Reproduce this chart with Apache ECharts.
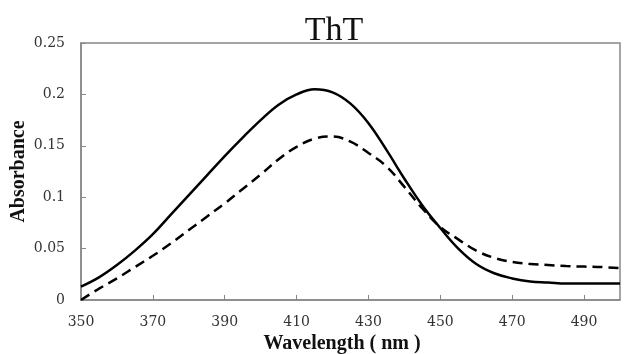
<!DOCTYPE html>
<html>
<head>
<meta charset="utf-8">
<script src="https://cdn.jsdelivr.net/npm/echarts@6/dist/echarts.min.js"></script>
<style>
  html, body { margin: 0; padding: 0; background: #fff; }
  #chart { width: 624px; height: 354px; }
</style>
</head>
<body>
<div id="chart"></div>
<script>
  // wavelength (nm)
  const wavelengths = [350, 355, 360, 365, 370, 375, 380, 385, 390, 395,
                       400, 405, 410, 415, 420, 425, 430, 435, 440, 445,
                       450, 455, 460, 465, 470, 475, 480, 485, 490, 495, 500];
  // solid curve
  const solidVals = [0.013, 0.022, 0.034, 0.048, 0.064, 0.083, 0.102, 0.121, 0.140, 0.158,
                     0.175, 0.190, 0.200, 0.205, 0.202, 0.191, 0.172, 0.146, 0.118, 0.092,
                     0.070, 0.050, 0.035, 0.026, 0.021, 0.018, 0.017, 0.016, 0.016, 0.016, 0.016];
  // dashed curve
  const dashedVals = [0.000, 0.011, 0.021, 0.032, 0.043, 0.055, 0.068, 0.081, 0.094, 0.108,
                      0.122, 0.137, 0.149, 0.157, 0.159, 0.154, 0.143, 0.130, 0.110, 0.089,
                      0.071, 0.059, 0.048, 0.041, 0.037, 0.035, 0.034, 0.033, 0.0325, 0.032, 0.031];
  const xTickLabels = [350, 370, 390, 410, 430, 450, 470, 490];

  const pair = (vals) => wavelengths.map((w, i) => [w, vals[i]]);

  const axisGray = '#888888';
  const serif = '"Liberation Serif", "DejaVu Serif", serif';
  const tickFont = '"DejaVu Serif", serif';

  let myChart = echarts.init(document.getElementById('chart'), null, { renderer: 'canvas' });
  let option = {
    animation: false,
    title: {
      text: 'ThT',
      left: 329,
      textAlign: 'center',
      top: 9,
      textStyle: { fontFamily: serif, fontSize: 34, fontWeight: 'normal', color: '#111' }
    },
    grid: {
      left: 81, right: 4, top: 43, bottom: 54,
      outerBoundsMode: 'none',
      show: true, borderColor: axisGray, borderWidth: 1.5, backgroundColor: '#fff'
    },
    xAxis: {
      type: 'value',
      min: 350, max: 500, interval: 10,
      name: 'Wavelength ( nm )',
      nameLocation: 'middle',
      nameGap: 34,
      nameMoveOverlap: false,
      nameTextStyle: { fontFamily: serif, fontSize: 20, fontWeight: 'bold', color: '#111', padding: [0, 17, 0, 0] },
      axisLine: { lineStyle: { color: axisGray, width: 1.5 } },
      axisTick: { inside: true, length: 5, customValues: xTickLabels, lineStyle: { color: axisGray } },
      axisLabel: { customValues: xTickLabels, fontFamily: tickFont, fontSize: 14, color: '#333', margin: 15 },
      splitLine: { show: false }
    },
    yAxis: {
      type: 'value',
      min: 0, max: 0.25, interval: 0.05,
      name: 'Absorbance',
      nameLocation: 'middle',
      nameGap: 52,
      nameMoveOverlap: false,
      nameTextStyle: { fontFamily: serif, fontSize: 20, fontWeight: 'bold', color: '#111' },
      axisLine: { show: true, lineStyle: { color: axisGray, width: 1.5 } },
      axisTick: { show: true, inside: true, length: 5, lineStyle: { color: axisGray } },
      axisLabel: { fontFamily: tickFont, fontSize: 14, color: '#333', margin: 16 },
      splitLine: { show: false }
    },
    series: [
      {
        name: 'solid',
        type: 'line',
        data: pair(solidVals),
        smooth: 0.4,
        showSymbol: false,
        lineStyle: { color: '#000', width: 2.5 }
      },
      {
        name: 'dashed',
        type: 'line',
        data: pair(dashedVals),
        smooth: 0.4,
        showSymbol: false,
        lineStyle: { color: '#000', width: 2.5, type: [10, 6] }
      }
    ]
  };
  myChart.setOption(option);
</script>
</body>
</html>
